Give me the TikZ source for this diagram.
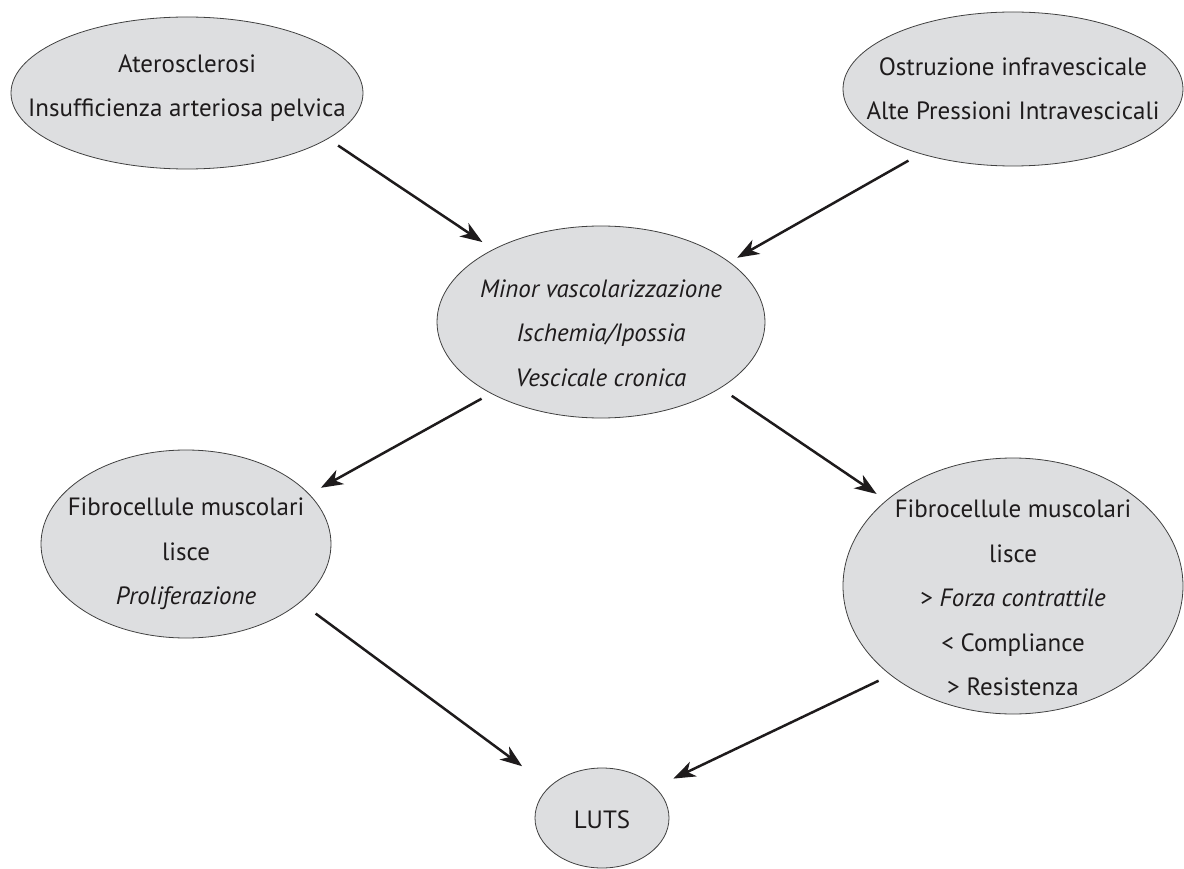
\documentclass[tikz,border=0pt]{standalone}
\usepackage{fontspec}
\setmainfont{PT Sans}
\usetikzlibrary{shapes.geometric,arrows.meta}
\definecolor{bubblegray}{RGB}{221,222,224}
\definecolor{inkgray}{RGB}{30,27,28}

\begin{document}
\begin{tikzpicture}
[
    x=1pt, y=-1pt,
    bubble/.style={ellipse, draw=black!75, line width=0.8pt, fill=bubblegray,
        inner sep=0pt},
    words/.style={align=center, text=inkgray, inner sep=0pt,
        font=\fontsize{25}{44.5}\selectfont},
    arr/.style={line width=2.5pt, draw=inkgray,
        -{Stealth[length=22pt, width=16pt, inset=6.5pt]}},
]
\useasboundingbox (0,0) rectangle (1184,869);

% the six bubbles
\node [bubble, minimum width=352pt, minimum height=152pt] (ather) at (187,93) {};
\node [bubble, minimum width=340pt, minimum height=154pt] (ostr) at (1013,89) {};
\node [bubble, minimum width=328pt, minimum height=192pt] (isch) at (601,322) {};
\node [bubble, minimum width=290pt, minimum height=188pt] (prol) at (186,544) {};
\node [bubble, minimum width=340pt, minimum height=256pt] (forza) at (1013,586) {};
\node [bubble, minimum width=134pt, minimum height=100pt] (luts) at (602,818) {};

% their texts
\node [words, yshift=5pt] (ather-txt) at (ather)
    {Aterosclerosi\\Insufficienza arteriosa pelvica};
\node [words] (ostr-txt) at (ostr)
    {Ostruzione infravescicale\\Alte Pressioni Intravescicali};
\node [words, yshift=-11pt] (isch-txt) at (isch)
    {\textit{Minor vascolarizzazione}\\\textit{Ischemia/Ipossia}\\\textit{Vescicale cronica}};
\node [words, yshift=-10pt] (prol-txt) at (prol)
    {Fibrocellule muscolari\\lisce\\\textit{Proliferazione}};
\node [words, yshift=-12pt] (forza-txt) at (forza)
    {Fibrocellule muscolari\\lisce\\> \textit{Forza contrattile}\\< Compliance\\> Resistenza};
\node [words, yshift=-2pt] (luts-txt) at (luts) {LUTS};

% arrows
\draw [arr, shorten <=12pt, shorten >=13pt] (ather.-18.8) -- (isch.146.6);
\draw [arr, shorten <=13.6pt, shorten >=8.6pt] (ostr.215.6) -- (isch.25.9);
\draw [arr, shorten <=10.6pt, shorten >=13.1pt] (isch.213.7) -- (prol.22.7);
\draw [arr, shorten <=13.6pt, shorten >=11.4pt] (isch.-29.8) -- (forza.146.9);
\draw [arr, shorten <=19pt, shorten >=34pt] (prol.-27.1) -- (luts.149.7);
\draw [arr, shorten <=13pt, shorten >=20pt] (forza.216.8) -- (luts.30.4);
\end{tikzpicture}
\end{document}
